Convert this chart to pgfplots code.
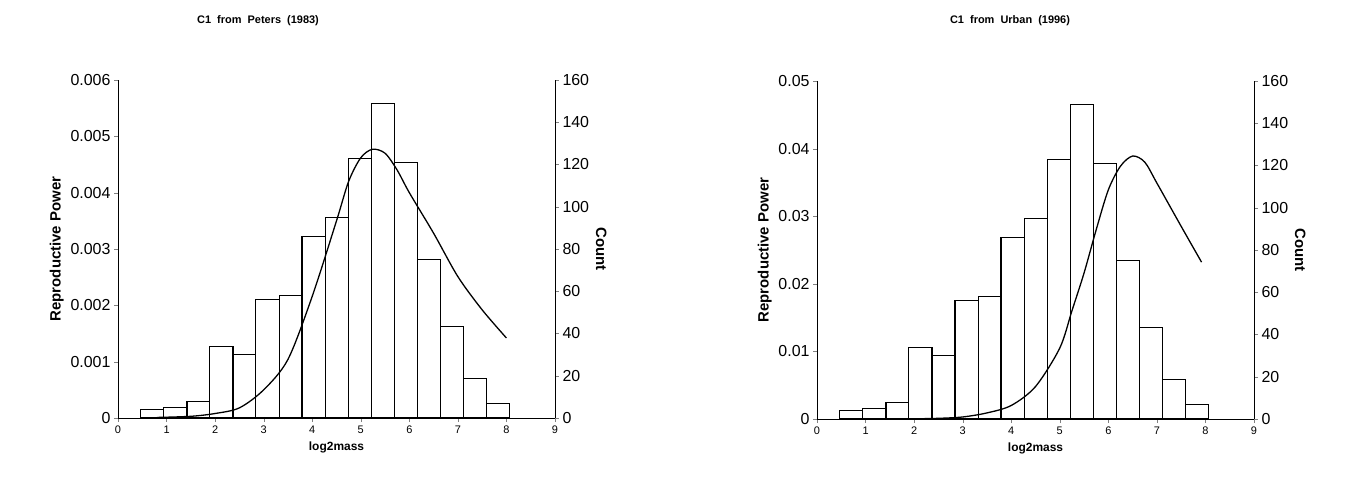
\documentclass[border=0pt]{standalone}
\usepackage{pgfplots}
\pgfplotsset{compat=1.18}
\usepackage{fontspec}
\setmainfont{Liberation Sans}
\pgfplotsset{
  base/.style={scale only axis, width=437bp, height=338bp, anchor=south west,
    xmin=0, xmax=9, ymin=0, tick align=outside, major tick length=4bp,
    axis x line*=bottom, xtick={0,...,9}, scaled y ticks=false,
    /pgf/number format/assume math mode=true,
    x tick label style={font=\fontsize{11}{13}\selectfont},
    y tick label style={font=\fontsize{16}{18}\selectfont},
    label style={font=\bfseries\fontsize{15}{17}\selectfont},
    xlabel style={font=\bfseries\fontsize{12}{14}\selectfont, yshift=-2bp},
    xlabel={log2mass}},
  cnt/.style={base, axis y line*=right, axis x line=none, ymax=160, ytick={0,20,...,160}, ylabel={Count},
    ylabel style={rotate=180}},
}
\pgfplotstableread{
x c
0.470 4.1
0.945 4.9
1.420 7.9
1.890 34
2.370 30
2.840 56
3.320 58
3.790 86
4.270 95
4.740 123
5.220 149
5.690 121
6.170 75
6.640 43.5
7.120 18.6
7.590 6.8
8.060 0
}\bins
\begin{document}
\begin{tikzpicture}
\path (0bp,0bp) rectangle (1345bp,-487bp);
% left panel
\begin{axis}[cnt, at={(118bp,-418bp)}]
\addplot[ybar interval, fill=white, draw=black, line width=1.2pt] table[x=x,y=c] {\bins};
\end{axis}
\begin{axis}[base, at={(118bp,-418bp)}, axis y line*=left, ymax=0.006, ytick={0,0.001,...,0.006},
  yticklabels={0,0.001,0.002,0.003,0.004,0.005,0.006},
  ylabel={Reproductive Power}]
\addplot[smooth, tension=0.5, black, line width=1.3pt] coordinates {
(0.8,0.00001)(1.5,0.00003)(2,0.00008)(2.5,0.00018)(3,0.0005)(3.5,0.00104)(4,0.00216)(4.5,0.0035)(4.75,0.0042)(5,0.00462)(5.24,0.00477)(5.5,0.0047)(5.75,0.0044)(6,0.0040)(6.5,0.00328)(7,0.00251)(7.5,0.00192)(8,0.00142)};
\end{axis}
\node[font=\bfseries\fontsize{11}{13}\selectfont] at (258bp,-21bp) {C1 \ from \ Peters \ (1983)};
% right panel
\begin{axis}[cnt, at={(817bp,-419bp)}]
\addplot[ybar interval, fill=white, draw=black, line width=1.2pt] table[x=x,y=c] {\bins};
\end{axis}
\begin{axis}[base, at={(817bp,-419bp)}, axis y line*=left, ymax=0.05, ytick={0,0.01,...,0.05},
  yticklabels={0,0.01,0.02,0.03,0.04,0.05},
  ylabel={Reproductive Power}]
\addplot[smooth, tension=0.5, black, line width=1.3pt] coordinates {
(2,0.00003)(2.5,0.0001)(3,0.0003)(3.5,0.0009)(4,0.002)(4.5,0.0048)(5,0.0105)(5.25,0.016)(5.5,0.0216)(5.75,0.028)(6,0.0339)(6.25,0.0374)(6.5,0.0389)(6.75,0.038)(7,0.0349)(7.5,0.0285)(7.92,0.0232)};
\end{axis}
\node[font=\bfseries\fontsize{11}{13}\selectfont] at (1010bp,-21bp) {C1 \ from \ Urban \ (1996)};
\end{tikzpicture}
\end{document}
